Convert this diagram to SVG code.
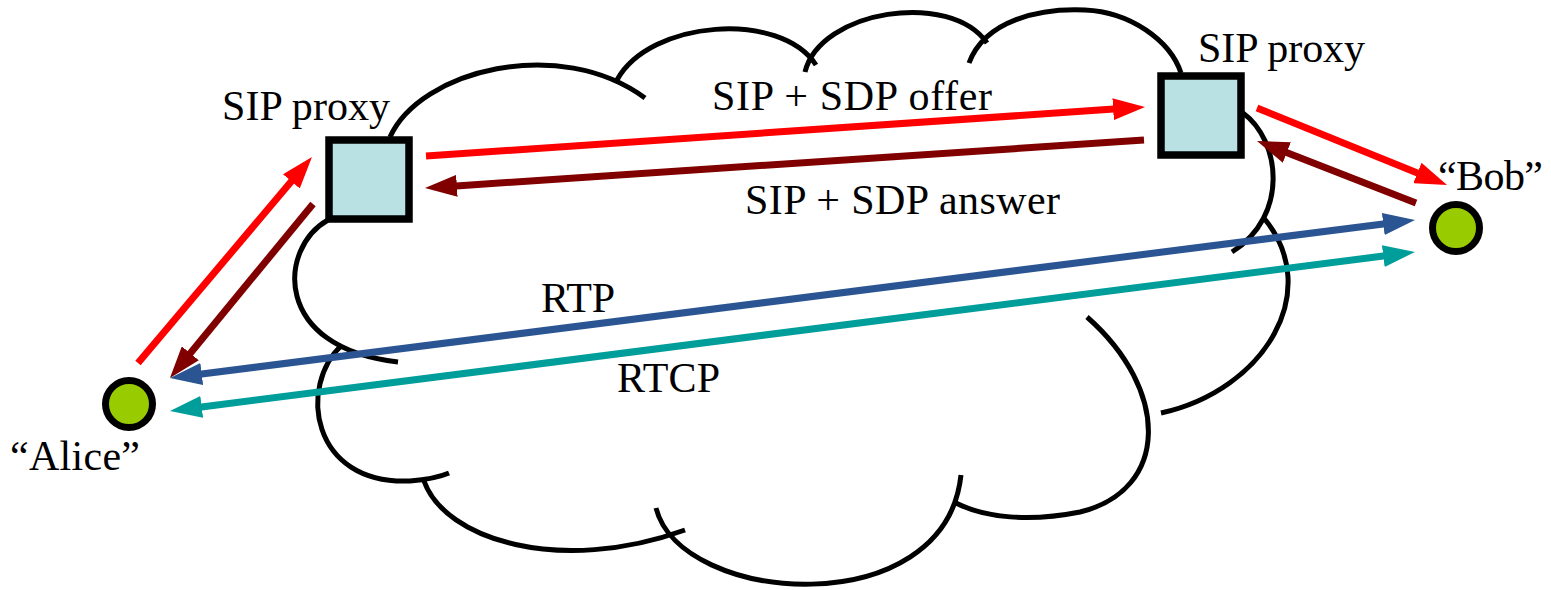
<svg xmlns="http://www.w3.org/2000/svg" width="1551" height="590" viewBox="0 0 1551 590">
<style>
.cloud{fill:none;stroke:#000;stroke-width:5;stroke-linecap:butt}
.proxy{fill:#B9E0E3;stroke:#000;stroke-width:7.5}
.ua{fill:#99CC00;stroke:#000;stroke-width:7}
.lbl{font-family:'Liberation Serif','Times New Roman',Tinos,'DejaVu Serif',serif;font-size:42px;fill:#000}
.c{fill:none;stroke-width:7}
.red{stroke:#FF0000}
.dred{stroke:#800000}
.blue{stroke:#2B5592}
.teal{stroke:#009E9A}
</style>
<defs>
<marker id="hRed" markerUnits="userSpaceOnUse" markerWidth="32" markerHeight="22" refX="8" refY="11" orient="auto-start-reverse"><path d="M0,0 L32,11 L0,22 z" fill="#FF0000"/></marker>
<marker id="hDred" markerUnits="userSpaceOnUse" markerWidth="32" markerHeight="22" refX="8" refY="11" orient="auto-start-reverse"><path d="M0,0 L32,11 L0,22 z" fill="#800000"/></marker>
<marker id="hBlue" markerUnits="userSpaceOnUse" markerWidth="32" markerHeight="22" refX="8" refY="11" orient="auto-start-reverse"><path d="M0,0 L32,11 L0,22 z" fill="#2B5592"/></marker>
<marker id="hTeal" markerUnits="userSpaceOnUse" markerWidth="32" markerHeight="22" refX="8" refY="11" orient="auto-start-reverse"><path d="M0,0 L32,11 L0,22 z" fill="#009E9A"/></marker>
</defs>
<g id="cloud">
<path class="cloud" d="M328 220 C278 248, 272 348, 398 362"/>
<path class="cloud" d="M342 345 C298 385, 310 485, 410 481 Q435 479 449 473"/>
<path class="cloud" d="M424 481 C445 540, 560 575, 685 530"/>
<path class="cloud" d="M656 508 C680 605, 945 625, 961 475"/>
<path class="cloud" d="M1087 317 C1170 390, 1170 490, 1080 512 C1030 522, 985 518, 956 503"/>
<path class="cloud" d="M1161 413 C1265 390, 1325 290, 1263 217"/>
<path class="cloud" d="M1243 113 C1280 140, 1290 215, 1232 252"/>
<path class="cloud" d="M969 63 C985 20, 1040 8, 1085 10 C1130 12, 1170 40, 1181 73"/>
<path class="cloud" d="M805 72 C820 10, 950 -10, 987 43"/>
<path class="cloud" d="M617 80 C650 20, 780 10, 816 65"/>
<path class="cloud" d="M390 137 C420 70, 560 35, 645 98"/>
</g>
<g id="connectors">
<line class="c red" x1="138" y1="363" x2="296.5" y2="175.3" marker-end="url(#hRed)"/>
<line class="c dred" x1="313" y1="204" x2="185.2" y2="359.5" marker-end="url(#hDred)"/>
<line class="c red" x1="426" y1="156" x2="1121.1" y2="108.6" marker-end="url(#hRed)"/>
<line class="c dred" x1="1144" y1="140" x2="448.9" y2="186.4" marker-end="url(#hDred)"/>
<line class="c red" x1="1257" y1="108" x2="1424.8" y2="176" marker-end="url(#hRed)"/>
<line class="c dred" x1="1416" y1="203" x2="1279.4" y2="149.7" marker-end="url(#hDred)"/>
<line class="c blue" x1="193.8" y1="375" x2="1391.2" y2="223" marker-start="url(#hBlue)" marker-end="url(#hBlue)"/>
<line class="c teal" x1="193.8" y1="408" x2="1391.2" y2="255" marker-start="url(#hTeal)" marker-end="url(#hTeal)"/>
</g>
<g id="proxy-left">
<rect class="proxy" x="329" y="140" width="80" height="79"/>
<text class="lbl" x="222" y="120" textLength="168">SIP proxy</text>
</g>
<g id="proxy-right">
<rect class="proxy" x="1161" y="76" width="80" height="79"/>
<text class="lbl" x="1198" y="62" textLength="167">SIP proxy</text>
</g>
<g id="alice">
<circle class="ua" cx="129" cy="404" r="23.5"/>
<text class="lbl" x="10" y="470" textLength="130">“Alice”</text>
</g>
<g id="bob">
<circle class="ua" cx="1456" cy="228" r="23.5"/>
<text class="lbl" x="1438" y="190" textLength="105">“Bob”</text>
</g>
<g id="labels">
<text class="lbl" x="712" y="110" textLength="280">SIP + SDP offer</text>
<text class="lbl" x="745" y="214" textLength="315">SIP + SDP answer</text>
<text class="lbl" x="541" y="312" textLength="74">RTP</text>
<text class="lbl" x="617" y="392" textLength="103">RTCP</text>
</g>
</svg>
